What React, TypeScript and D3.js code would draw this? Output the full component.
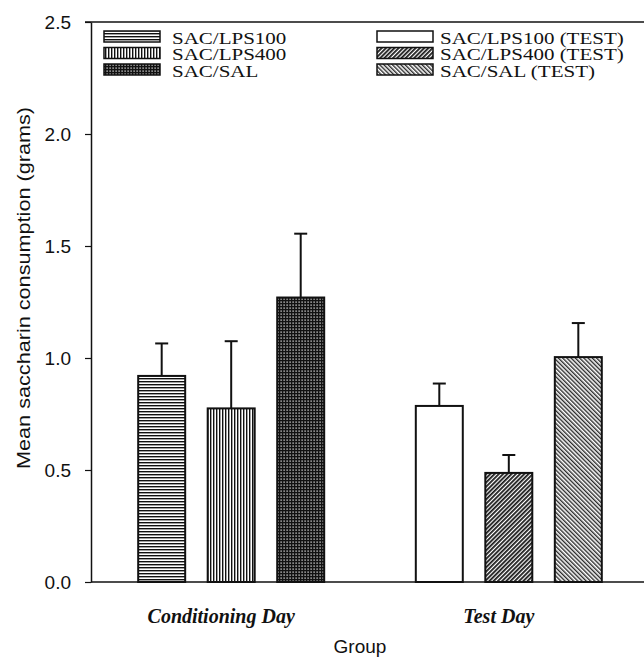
import React, { useRef, useEffect } from 'react';
import * as d3 from 'd3';

// Groups along the x axis
const groups = ['Conditioning Day', 'Test Day'];

// Series (legend order) for each group
const condSeries = ['SAC/LPS100', 'SAC/LPS400', 'SAC/SAL'];
const testSeries = ['SAC/LPS100 (TEST)', 'SAC/LPS400 (TEST)', 'SAC/SAL (TEST)'];

// Means and SEMs (grams)
const condMeans = [0.92, 0.775, 1.27];
const condErrors = [0.145, 0.30, 0.285];
const testMeans = [0.786, 0.487, 1.004];
const testErrors = [0.10, 0.08, 0.152];

const yTicks = [0, 0.5, 1.0, 1.5, 2.0, 2.5];

const patternIds = {
  'SAC/LPS100': 'pat-hlines',
  'SAC/LPS400': 'pat-vlines',
  'SAC/SAL': 'pat-grid',
  'SAC/LPS100 (TEST)': null,
  'SAC/LPS400 (TEST)': 'pat-diag-up',
  'SAC/SAL (TEST)': 'pat-diag-down',
};

const fillFor = (s) => (patternIds[s] ? `url(#${patternIds[s]})` : '#fff');

const SANS = '"Liberation Sans", Arial, sans-serif';
const SERIF = '"Liberation Serif", "Times New Roman", serif';

const BarChart = ({ width = 644, height = 671 }) => {
  const ref = useRef<SVGSVGElement>(null);

  useEffect(() => {
    const svg = d3.select(ref.current);
    svg.selectAll('*').remove();

    const left = 91;
    const right = 649;
    const top = 22;
    const bottom = 582;

    // Patterns
    const defs = svg.append('defs');

    const hl = defs.append('pattern').attr('id', 'pat-hlines')
      .attr('patternUnits', 'userSpaceOnUse').attr('width', 4).attr('height', 3);
    hl.append('rect').attr('width', 4).attr('height', 3).attr('fill', '#fff');
    hl.append('rect').attr('y', 0).attr('width', 4).attr('height', 1.4).attr('fill', '#111');

    const vl = defs.append('pattern').attr('id', 'pat-vlines')
      .attr('patternUnits', 'userSpaceOnUse').attr('width', 3).attr('height', 4);
    vl.append('rect').attr('width', 3).attr('height', 4).attr('fill', '#fff');
    vl.append('rect').attr('x', 0).attr('width', 1.4).attr('height', 4).attr('fill', '#111');

    const gr = defs.append('pattern').attr('id', 'pat-grid')
      .attr('patternUnits', 'userSpaceOnUse').attr('width', 3).attr('height', 3);
    gr.append('rect').attr('width', 3).attr('height', 3).attr('fill', '#111');
    gr.append('rect').attr('x', 1.5).attr('y', 1.5).attr('width', 1.2).attr('height', 1.2).attr('fill', '#fff');

    const du = defs.append('pattern').attr('id', 'pat-diag-up')
      .attr('patternUnits', 'userSpaceOnUse').attr('width', 3).attr('height', 3)
      .attr('patternTransform', 'rotate(45)');
    du.append('rect').attr('width', 3).attr('height', 3).attr('fill', '#fff');
    du.append('rect').attr('width', 1.8).attr('height', 3).attr('fill', '#1a1a1a');

    const dd = defs.append('pattern').attr('id', 'pat-diag-down')
      .attr('patternUnits', 'userSpaceOnUse').attr('width', 3).attr('height', 3)
      .attr('patternTransform', 'rotate(-45)');
    dd.append('rect').attr('width', 3).attr('height', 3).attr('fill', '#fff');
    dd.append('rect').attr('width', 1.4).attr('height', 3).attr('fill', '#2a2a2a');

    // Scales
    const y = d3.scaleLinear().domain([0, 2.5]).range([bottom, top]);

    const x0 = d3.scaleBand()
      .domain(groups)
      .range([left, right])
      .paddingInner(0.33)
      .paddingOuter(0.17);

    const x1 = d3.scaleBand()
      .domain(['a', 'b', 'c'])
      .range([0, x0.bandwidth()])
      .paddingInner(0.324);

    const barData = [
      ...condSeries.map((s, i) => ({ group: groups[0], slot: ['a', 'b', 'c'][i], series: s, mean: condMeans[i], err: condErrors[i] })),
      ...testSeries.map((s, i) => ({ group: groups[1], slot: ['a', 'b', 'c'][i], series: s, mean: testMeans[i], err: testErrors[i] })),
    ];

    // Frame: top line and x baseline
    svg.append('line')
      .attr('x1', left - 6).attr('x2', width)
      .attr('y1', top).attr('y2', top)
      .attr('stroke', '#111').attr('stroke-width', 1.5);

    svg.append('line')
      .attr('x1', left).attr('x2', width)
      .attr('y1', bottom).attr('y2', bottom)
      .attr('stroke', '#111').attr('stroke-width', 1.5);

    // Error bars
    const eb = svg.append('g');
    barData.forEach(d => {
      const cx = x0(d.group) + x1(d.slot) + x1.bandwidth() / 2;
      eb.append('line')
        .attr('x1', cx).attr('x2', cx)
        .attr('y1', y(d.mean)).attr('y2', y(d.mean + d.err))
        .attr('stroke', '#111').attr('stroke-width', 2);
      eb.append('line')
        .attr('x1', cx - 6.5).attr('x2', cx + 6.5)
        .attr('y1', y(d.mean + d.err)).attr('y2', y(d.mean + d.err))
        .attr('stroke', '#111').attr('stroke-width', 2);
    });

    // Bars
    svg.append('g')
      .selectAll('rect')
      .data(barData)
      .join('rect')
      .attr('x', d => x0(d.group) + x1(d.slot))
      .attr('y', d => y(d.mean))
      .attr('width', x1.bandwidth())
      .attr('height', d => bottom - y(d.mean))
      .attr('fill', d => fillFor(d.series))
      .attr('stroke', '#111')
      .attr('stroke-width', 2);

    // Y axis
    const yAxis = svg.append('g')
      .attr('transform', `translate(${left}, 0)`)
      .call(d3.axisLeft(y).tickValues(yTicks).tickFormat(d3.format('.1f')).tickSize(6).tickSizeOuter(0).tickPadding(14));
    yAxis.select('.domain').attr('stroke', '#111').attr('stroke-width', 1.5);
    yAxis.selectAll('.tick line').attr('stroke', '#111').attr('stroke-width', 1.2);
    yAxis.selectAll('.tick text')
      .attr('fill', '#111')
      .style('font-family', SANS)
      .style('font-size', '19px');

    svg.append('text')
      .attr('transform', `translate(30, 288) rotate(-90)`)
      .attr('text-anchor', 'middle')
      .attr('textLength', 362)
      .attr('lengthAdjust', 'spacingAndGlyphs')
      .style('font-family', SANS)
      .style('font-size', '18px')
      .attr('fill', '#111')
      .text('Mean saccharin consumption (grams)');

    // Group labels
    svg.append('g')
      .selectAll('text')
      .data(groups)
      .join('text')
      .attr('x', d => x0(d) + x0.bandwidth() / 2 - 10)
      .attr('y', 623)
      .attr('text-anchor', 'middle')
      .style('font-family', SERIF)
      .style('font-size', '20px')
      .style('font-weight', 'bold')
      .style('font-style', 'italic')
      .attr('fill', '#111')
      .text(d => d);

    svg.append('text')
      .attr('x', 360)
      .attr('y', 653)
      .attr('text-anchor', 'middle')
      .style('font-family', SANS)
      .style('font-size', '19px')
      .attr('fill', '#111')
      .text('Group');

    // Legend: text is wide but short in the original, so stretch a smaller font
    const legendCols = [
      { series: condSeries, sx: 104, tx: 172 },
      { series: testSeries, sx: 377, tx: 440 },
    ];
    const rowStep = 16.5;
    legendCols.forEach(col => {
      col.series.forEach((s, i) => {
        const ry = 31 + i * rowStep;
        svg.append('rect')
          .attr('x', col.sx).attr('y', ry)
          .attr('width', 56).attr('height', 11)
          .attr('fill', fillFor(s))
          .attr('stroke', '#111').attr('stroke-width', 1.5);
        const t = svg.append('text')
          .attr('x', col.tx).attr('y', ry + 12)
          .style('font-family', SERIF)
          .style('font-size', '21px')
          .attr('fill', '#111')
          .text(s);
        const w = (t.node() as SVGTextElement).getComputedTextLength();
        t.style('font-size', '16px')
          .attr('y', ry + 12.5)
          .attr('textLength', w)
          .attr('lengthAdjust', 'spacingAndGlyphs');
      });
    });
  }, [width, height]);

  return <svg ref={ref} width={width} height={height} style={{ position: 'absolute', left: 0, top: 0, background: '#fff' }} />;
};

export default function App() {
  return <BarChart />;
}
